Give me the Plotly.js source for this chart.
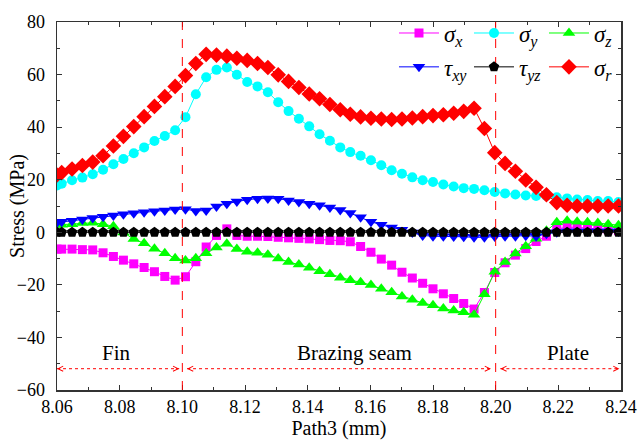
<!DOCTYPE html>
<html><head><meta charset="utf-8">
<script src="https://cdn.plot.ly/plotly-3.0.1.min.js"></script>
<style>html,body{margin:0;padding:0;background:#fff}#chart{width:641px;height:440px}</style>
</head><body><div id="chart"></div>
<script>
// Path position (mm)
const pathX = [8.0600,
  8.0615, 8.0648, 8.0681, 8.0714, 8.0747, 8.0780, 8.0812, 8.0845, 8.0878, 8.0911,
  8.0944, 8.0977, 8.1010, 8.1043, 8.1076, 8.1109, 8.1142, 8.1174, 8.1207, 8.1240,
  8.1273, 8.1306, 8.1339, 8.1372, 8.1405, 8.1438, 8.1471, 8.1504, 8.1536, 8.1569,
  8.1602, 8.1635, 8.1668, 8.1701, 8.1734, 8.1767, 8.1800, 8.1833, 8.1866, 8.1898,
  8.1931, 8.1964, 8.1997, 8.2030, 8.2063, 8.2096, 8.2129, 8.2162, 8.2195, 8.2228,
  8.2260, 8.2293, 8.2326, 8.2359, 8.2392];

const sigmaX = [-6.4,
  -6.4, -6.4, -6.6, -6.7, -7.8, -9.2, -10.6, -12.0, -13.4, -15.0,
  -16.8, -18.2, -16.9, -11.2, -5.6, -1.2, 1.3, -1.2, -1.5, -1.5,
  -1.6, -1.9, -2.1, -2.3, -2.5, -2.8, -3.1, -3.2, -3.6, -5.4,
  -7.6, -10.2, -12.5, -15.2, -17.4, -19.4, -21.5, -23.4, -25.2, -27.1,
  -29.2, -22.9, -15.3, -11.6, -8.7, -6.2, -3.5, -1.5, 1.3, 1.9,
  1.9, 1.6, 1.3, 1.0, 0.6];

const sigmaY = [17.8,
  18.5, 19.8, 20.8, 22.1, 23.8, 25.9, 27.9, 30.1, 32.3, 34.7,
  36.6, 38.8, 43.8, 52.5, 59.0, 61.8, 62.7, 59.9, 57.2, 55.5,
  53.3, 49.5, 46.1, 43.2, 40.3, 37.3, 34.8, 32.3, 30.5, 29.1,
  27.4, 25.5, 23.6, 22.3, 20.9, 19.8, 19.1, 18.2, 17.4, 16.8,
  16.5, 16.0, 15.3, 14.8, 14.4, 14.0, 13.8, 13.8, 13.3, 12.9,
  12.5, 12.3, 11.9, 11.9, 11.5];

const sigmaZ = [2.8,
  2.9, 3.1, 3.5, 3.6, 3.1, 2.3, -0.1, -2.6, -4.2, -6.3,
  -8.0, -9.9, -10.7, -9.9, -8.0, -5.8, -4.4, -6.4, -7.4, -7.8,
  -8.5, -10.0, -11.3, -12.3, -13.5, -14.8, -16.0, -17.3, -18.2, -19.0,
  -20.1, -21.5, -22.8, -24.4, -25.7, -26.9, -27.8, -29.0, -29.8, -30.4,
  -31.4, -23.6, -15.0, -11.3, -8.1, -5.3, -2.5, 0.6, 3.8, 4.4,
  4.0, 3.8, 3.5, 3.1, 2.7];

const tauXY = [3.7,
  4.0, 4.4, 4.9, 5.4, 5.9, 6.4, 6.9, 7.2, 7.6, 8.0,
  8.3, 8.7, 8.8, 8.1, 8.3, 9.8, 10.9, 11.7, 12.4, 12.8,
  12.9, 12.8, 12.1, 11.5, 10.9, 10.3, 9.4, 8.5, 7.3, 5.7,
  4.0, 2.9, 1.8, 1.0, -0.1, -1.2, -1.5, -1.5, -1.6, -1.7,
  -1.9, -1.9, -1.6, -1.5, -1.5, -1.3, -1.5, -0.6, 0.0, 0.3,
  0.3, 0.3, 0.3, 0.3, 0.3];

const tauYZ = [0.0,
  0.0, 0.0, 0.0, 0.0, 0.0, 0.0, 0.0, 0.0, 0.0, 0.0,
  0.0, 0.0, 0.0, 0.0, 0.0, 0.0, 0.0, 0.0, 0.0, 0.0,
  0.0, 0.0, 0.0, 0.0, 0.0, 0.0, 0.0, 0.0, 0.0, 0.0,
  0.0, 0.0, 0.0, 0.0, 0.0, 0.0, 0.0, 0.0, 0.0, 0.0,
  0.0, 0.0, 0.0, 0.0, 0.0, 0.0, 0.0, 0.0, 0.0, 0.0,
  0.0, 0.0, 0.0, 0.0, 0.0];

const sigmaR = [21.8,
  22.7, 24.1, 25.4, 26.7, 29.1, 32.8, 36.5, 40.2, 44.0, 47.9,
  51.6, 55.5, 59.6, 64.2, 67.7, 67.4, 67.0, 66.2, 65.4, 64.2,
  62.7, 59.9, 57.4, 55.1, 52.6, 50.8, 48.6, 46.6, 44.9, 43.9,
  43.4, 43.1, 42.9, 43.1, 43.5, 44.0, 44.4, 44.7, 45.3, 46.0,
  47.2, 39.5, 30.3, 26.2, 23.2, 19.9, 17.1, 14.3, 11.3, 10.3,
  10.0, 10.0, 10.0, 10.0, 10.0];

const seriesNames = ['<i>σ</i><sub><i>x</i></sub>', '<i>σ</i><sub><i>y</i></sub>', '<i>σ</i><sub><i>z</i></sub>',
                     '<i>τ</i><sub><i>xy</i></sub>', '<i>τ</i><sub><i>yz</i></sub>', '<i>σ</i><sub><i>r</i></sub>'];

// Region labels and boundaries
const regionLabels = ['Fin', 'Brazing seam', 'Plate'];
const regionLabelX = [8.079, 8.155, 8.223];
const regionStart = [8.0600, 8.1015, 8.2015];
const regionEnd = [8.0990, 8.1985, 8.2395];
const boundaries = [8.10, 8.20];
const labelY = -45.9;
const arrowY = -51.9;
const yTitle = 'Stress (MPa)';
const xTitle = 'Path3 (mm)';

const serif = 'Liberation Serif';
const styles = [
  {color: '#FF00FF', symbol: 'square', size: 9, legend: 'legend'},
  {color: '#00FFFF', symbol: 'circle', size: 10, legend: 'legend'},
  {color: '#00FF00', symbol: 'triangle-up', size: 11, legend: 'legend'},
  {color: '#0000FF', symbol: 'triangle-down', size: 11, legend: 'legend2'},
  {color: '#000000', symbol: 'pentagon', size: 11, legend: 'legend2'},
  {color: '#FF0000', symbol: 'diamond', size: 12, legend: 'legend2'}
];
const series = [sigmaX, sigmaY, sigmaZ, tauXY, tauYZ, sigmaR];

const traces = series.map((vals, i) => ({
  x: pathX, y: vals, type: 'scatter', mode: 'lines+markers',
  name: seriesNames[i], legend: styles[i].legend,
  line: {color: styles[i].color, width: 1},
  marker: {color: styles[i].color, symbol: styles[i].symbol, size: styles[i].size, line: {width: 0}}
}));

const shapes = [];
boundaries.forEach(b => shapes.push({type: 'line', xref: 'x', yref: 'paper', x0: b, x1: b, y0: 0, y1: 1,
  line: {color: '#FF0000', width: 1, dash: 'dash'}}));
regionStart.forEach((s, i) => shapes.push({type: 'line', xref: 'x', yref: 'y', x0: s, x1: regionEnd[i], y0: arrowY, y1: arrowY,
  line: {color: '#FF0000', width: 1, dash: 'dot'}}));

const annotations = [];
regionLabels.forEach((t, i) => annotations.push({x: regionLabelX[i], y: labelY, xref: 'x', yref: 'y', text: t,
  showarrow: false, font: {family: serif, size: 21, color: '#000'}}));
regionStart.forEach((s, i) => {
  annotations.push({x: s, y: arrowY, ax: s + 0.0015, ay: arrowY, axref: 'x', ayref: 'y', xref: 'x', yref: 'y',
    text: '', showarrow: true, arrowhead: 5, arrowsize: 1, arrowwidth: 1, arrowcolor: '#FF0000'});
  annotations.push({x: regionEnd[i], y: arrowY, ax: regionEnd[i] - 0.0015, ay: arrowY, axref: 'x', ayref: 'y', xref: 'x', yref: 'y',
    text: '', showarrow: true, arrowhead: 5, arrowsize: 1, arrowwidth: 1, arrowcolor: '#FF0000'});
});
// y-axis title placed as rotated text
annotations.push({xref: 'paper', yref: 'paper', x: -0.071, y: 0.5, text: yTitle, textangle: -90,
  showarrow: false, xanchor: 'center', yanchor: 'middle', font: {family: serif, size: 20, color: '#000'}});

const axisCommon = {
  ticks: 'inside', ticklen: 5, tickwidth: 1, tickcolor: '#333',
  showline: true, linecolor: '#333', linewidth: 1.5, mirror: 'ticks',
  showgrid: false, zeroline: false,
  tickfont: {family: serif, size: 18, color: '#000'}
};

const legendCommon = {orientation: 'h', xanchor: 'left', yanchor: 'middle', bgcolor: 'rgba(0,0,0,0)',
  borderwidth: 0, itemwidth: 40, entrywidth: 20, entrywidthmode: 'pixels',
  font: {family: serif, size: 23, color: '#000'}, itemclick: false};

const layout = {
  width: 641, height: 440,
  margin: {l: 57, r: 20, t: 17, b: 50},
  paper_bgcolor: '#fff', plot_bgcolor: '#fff',
  font: {family: serif, size: 16, color: '#000'},
  showlegend: true,
  xaxis: Object.assign({}, axisCommon, {
    range: [8.06, 8.24], tick0: 8.06, dtick: 0.02, tickformat: '.2f',
    minor: {dtick: 0.01, ticks: 'inside', ticklen: 3, tickcolor: '#333'},
    title: {text: xTitle, font: {family: serif, size: 20, color: '#000'}, standoff: 0}
  }),
  yaxis: Object.assign({}, axisCommon, {
    range: [-60, 80], tick0: -60, dtick: 20, ticklabelstandoff: 7,
    minor: {dtick: 10, ticks: 'inside', ticklen: 3, tickcolor: '#333'}
  }),
  legend: Object.assign({}, legendCommon, {x: 0.5975, y: 0.97}),
  legend2: Object.assign({}, legendCommon, {x: 0.5975, y: 0.878}),
  shapes: shapes,
  annotations: annotations
};

Plotly.newPlot('chart', traces, layout, {displayModeBar: false, staticPlot: true});
</script>
</body></html>
